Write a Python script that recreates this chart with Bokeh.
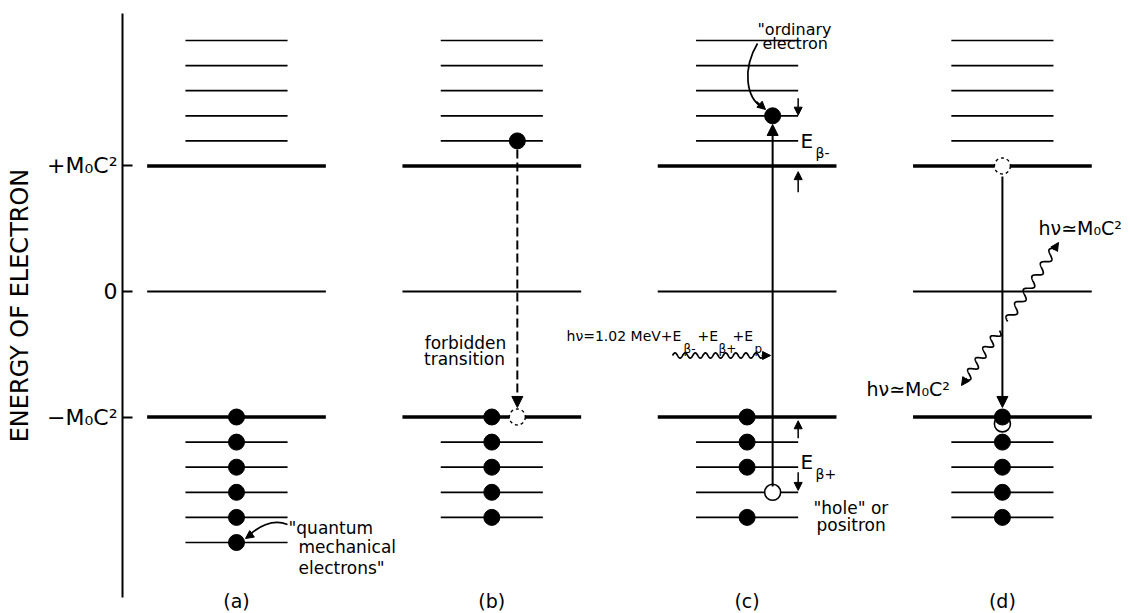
import numpy as np
from bokeh.plotting import figure
from bokeh.models import Range1d, FixedTicker, Arrow, NormalHead
from bokeh.core.properties import value
from bokeh.embed import file_html
from bokeh.resources import INLINE

FONT = "DejaVu Sans"

# ---------------- data ----------------
panel_labels = ["(a)", "(b)", "(c)", "(d)"]
panel_x = [1, 2, 3, 4]

# energies in units of M0c^2
rest_levels = [1.0, -1.0]          # +M0c^2 and -M0c^2
zero_level = [0.0]
upper_levels = [1.2, 1.4, 1.6, 1.8, 2.0]
lower_levels_by_panel = [
    [-1.2, -1.4, -1.6, -1.8, -2.0],
    [-1.2, -1.4, -1.6, -1.8],
    [-1.2, -1.4, -1.6, -1.8],
    [-1.2, -1.4, -1.6, -1.8],
]

# occupied states (filled electrons)
filled_x = [1, 1, 1, 1, 1, 1, 2.1, 2, 2, 2, 2, 2, 3.1, 3, 3, 3, 3, 4, 4, 4, 4, 4]
filled_y = [-1.0, -1.2, -1.4, -1.6, -1.8, -2.0, 1.2, -1.0, -1.2, -1.4, -1.6, -1.8,
            1.4, -1.0, -1.2, -1.4, -1.8, -1.0, -1.2, -1.4, -1.6, -1.8]
# holes (positrons)
hole_x = [3.1, 4]
hole_y = [-1.6, -1.055]
# dashed (vacant / forbidden) states
vacant_x = [2.1, 4]
vacant_y = [-1.0, 1.0]

tick_values = [1, 0, -1]
tick_labels = ["+M\u2080C\u00b2", "0", "\u2212M\u2080C\u00b2"]

HALF_THICK = 0.35
HALF_THIN = 0.2
SX, SY = 255.3, 125.5   # px per data unit (for isotropic wave shapes)

# ---------------- figure ----------------
p = figure(frame_width=1006, frame_height=584,
           x_range=Range1d(0.55347, 4.4939), y_range=Range1d(-2.4382, 2.2151),
           output_backend="svg", toolbar_location=None,
           min_border_left=122, min_border_right=0, min_border_top=13, min_border_bottom=0,
           background_fill_color="white", border_fill_color="white")
p.outline_line_color = None
p.grid.visible = False

ya = p.yaxis[0]
ya.ticker = FixedTicker(ticks=tick_values)
ya.major_label_overrides = dict(zip(tick_values, tick_labels))
ya.axis_label = "ENERGY OF ELECTRON"
ya.axis_label_text_font = FONT
ya.axis_label_text_font_size = "24px"
ya.axis_label_text_font_style = "normal"
ya.axis_label_text_color = "black"
ya.axis_label_standoff = 10
ya.major_label_text_font = FONT
ya.major_label_text_font_size = "22px"
ya.major_label_text_color = "black"
ya.major_label_standoff = 5
ya.major_tick_in = 10
ya.major_tick_out = 0
ya.major_tick_line_width = 2
ya.major_tick_line_color = "black"
ya.minor_tick_line_color = None
ya.axis_line_width = 2
ya.axis_line_color = "black"

xa = p.xaxis[0]
xa.ticker = FixedTicker(ticks=panel_x)
xa.major_label_overrides = dict(zip(panel_x, panel_labels))
xa.axis_line_color = None
xa.major_tick_line_color = None
xa.major_tick_out = 0
xa.major_tick_in = 0
xa.minor_tick_line_color = None
xa.major_label_standoff = -8
xa.major_label_text_font = FONT
xa.major_label_text_font_size = "19px"
xa.major_label_text_color = "black"

# ---------------- energy levels ----------------
tx0, tx1, ty = [], [], []
for c in panel_x:
    for e in rest_levels:
        tx0.append(c - HALF_THICK); tx1.append(c + HALF_THICK); ty.append(e)
p.segment(x0=tx0, y0=ty, x1=tx1, y1=ty, line_width=3.4, line_color="black")

zx0, zx1, zy = [], [], []
for c in panel_x:
    for e in zero_level:
        zx0.append(c - HALF_THICK); zx1.append(c + HALF_THICK); zy.append(e)
p.segment(x0=zx0, y0=zy, x1=zx1, y1=zy, line_width=2.2, line_color="black")

nx0, nx1, ny = [], [], []
for c, lows in zip(panel_x, lower_levels_by_panel):
    for e in upper_levels + lows:
        nx0.append(c - HALF_THIN); nx1.append(c + HALF_THIN); ny.append(e)
p.segment(x0=nx0, y0=ny, x1=nx1, y1=ny, line_width=1.7, line_color="black")

# ---------------- transitions ----------------
def arrow(x0, y0, x1, y1, size=11, width=2.0, dash="solid"):
    p.add_layout(Arrow(end=NormalHead(size=size, fill_color="black", line_color="black", line_width=1),
                       x_start=x0, y_start=y0, x_end=x1, y_end=y1,
                       line_width=width, line_color="black", line_dash=dash))

arrow(2.1, 1.131, 2.1, -0.924, dash="9 4")          # (b) forbidden transition
arrow(3.1, -1.554, 3.1, 1.331)                       # (c) pair creation
arrow(4.0, 0.916, 4.0, -0.924)                       # (d) annihilation
# E_beta markers in (c)
arrow(3.2, 1.54, 3.2, 1.405, size=8, width=1.5)
arrow(3.2, 0.79, 3.2, 0.955, size=8, width=1.5)
arrow(3.2, -1.17, 3.2, -1.03, size=8, width=1.5)
arrow(3.2, -1.44, 3.2, -1.585, size=8, width=1.5)


def wavy(x0, y0, x1, y1, n_waves, amp):
    dx, dy = (x1 - x0) * SX, (y1 - y0) * SY
    L = np.hypot(dx, dy)
    ux, uy = dx / L, dy / L
    nxv, nyv = -uy, ux
    s = np.linspace(0, L - 7, 500)
    off = amp * np.sin(2 * np.pi * n_waves * s / (L - 7))
    xs = x0 + (s * ux + off * nxv) / SX
    ys = y0 + (s * uy + off * nyv) / SY
    p.line(xs, ys, line_width=1.7, line_color="black")
    arrow(x0 + (L - 9) * ux / SX, y0 + (L - 9) * uy / SY, x1, y1, size=8, width=1.5)


wavy(2.7078, -0.51, 3.092, -0.51, 9, 2.6)
wavy(4.020, -0.239, 4.2197, 0.3905, 5.5, 4.0)
wavy(3.9887, -0.311, 3.8398, -0.749, 4.5, 4.0)

# curved pointer arrows
p.bezier(x0=[3.0407, 1.1998], y0=[1.9761, -1.8566],
         x1=[3.0603, 1.0431], y1=[1.4661, -1.9522],
         cx0=[2.982, 1.141], cy0=[1.7769, -1.8088],
         cx1=[2.9937, 1.0862], cy1=[1.5458, -1.8725],
         line_width=1.7, line_color="black")
arrow(3.0368, 1.5139, 3.0721, 1.4502, size=8, width=1.5)
arrow(1.0627, -1.9283, 1.0353, -1.9681, size=8, width=1.5)

# ---------------- electrons ----------------
p.scatter(hole_x, hole_y, size=16, marker="circle", fill_color="white",
          line_color="black", line_width=1.6)
p.scatter(filled_x, filled_y, size=16, marker="circle", fill_color="black",
          line_color="black")
p.scatter(vacant_x, vacant_y, size=16, marker="circle", fill_color="white",
          line_color="black", line_width=1.4, line_dash="3 3")

# ---------------- texts ----------------
def txt(xs, ys, texts, size, align="left"):
    p.text(x=xs, y=ys, text=texts, text_font=value(FONT), text_font_size=value(size),
           text_align=align, text_baseline="middle", text_color="black")

txt([3.0407, 3.0603], [2.0876, 1.9761], ['"ordinary', 'electron'], "16px")
txt([1.897, 1.8931], [-0.4064, -0.5339], ["forbidden", "transition"], "17px", "center")
txt([1.2037, 1.2429, 1.2429], [-1.8805, -2.0398, -2.1992],
    ['"quantum', 'mechanical', 'electrons"'], "17px")
txt([3.2601, 3.2719], [-1.7211, -1.8566], ['"hole" or', 'positron'], "17px")

# formula in (c)
txt([2.2926, 2.8057, 2.9428], [-0.3506] * 3, ["h\u03bd=1.02 MeV+E", "+E", "+E"], "14px")
txt([2.7509, 2.8880, 3.0290], [-0.4542] * 3, ["\u03b2-", "\u03b2+", "p"], "12px")

# E_beta labels
txt([3.2092, 3.2092], [1.1952, -1.3546], ["E", "E"], "20px")
txt([3.2679, 3.2679], [1.0996, -1.4502], ["\u03b2-", "\u03b2+"], "14px")

# photon labels in (d)
txt([4.1414, 3.4677], [0.502, -0.7729], ["h\u03bd\u2243M\u2080C\u00b2", "h\u03bd\u2243M\u2080C\u00b2"], "19px")

open("out.html", "w").write(file_html(p, INLINE))
